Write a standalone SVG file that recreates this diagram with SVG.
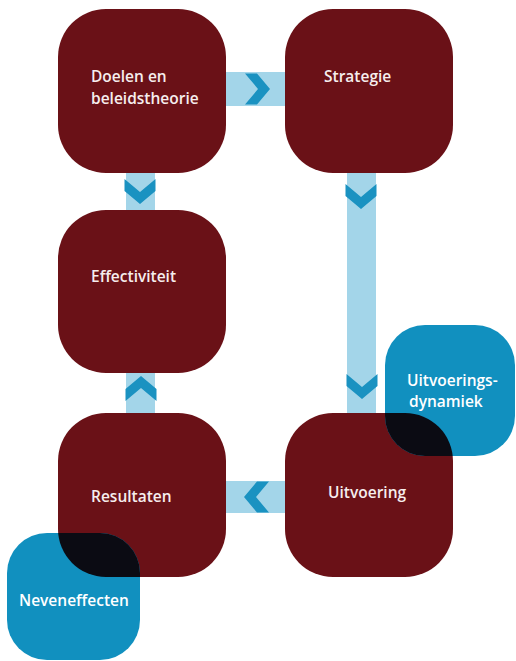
<svg xmlns="http://www.w3.org/2000/svg" width="516" height="661" viewBox="0 0 516 661">
<style>
.box{fill:#6a1117}
.side{fill:#1190bf}
.ovl{fill:#0b0b13}
.conn{fill:#a3d5e9}
.chev{fill:#1a92c1}
.t{font-family:"Open Sans","Noto Sans",sans-serif;font-weight:600;font-size:15.5px;fill:#f6eeee}
.tw{font-family:"Open Sans","Noto Sans",sans-serif;font-weight:600;font-size:15.5px;fill:#ffffff}
</style>
<defs>
<path id="chev" d="M-12,-15.5 L0,-15.5 L13,0 L0,15.5 L-12,15.5 L1,0 Z"/>
<clipPath id="c5"><rect x="285" y="413" width="168" height="164" rx="48"/></clipPath>
<clipPath id="c4"><rect x="58" y="413" width="168" height="164" rx="48"/></clipPath>
</defs>
<g id="connectors">
<rect class="conn" x="220" y="72" width="70" height="34"/>
<use href="#chev" class="chev" transform="translate(257,89)"/>
<rect class="conn" x="126" y="168" width="29" height="46"/>
<use href="#chev" class="chev" transform="translate(140,191) rotate(90)"/>
<rect class="conn" x="347" y="168" width="29" height="250"/>
<use href="#chev" class="chev" transform="translate(361,196) rotate(90)"/>
<use href="#chev" class="chev" transform="translate(362,386) rotate(90)"/>
<rect class="conn" x="126" y="368" width="29" height="48"/>
<use href="#chev" class="chev" transform="translate(141,389) rotate(-90)"/>
<rect class="conn" x="220" y="481" width="70" height="32"/>
<use href="#chev" class="chev" transform="translate(257,497) rotate(180)"/>
</g>
<g id="doelen">
<rect class="box" x="58" y="9" width="168" height="164" rx="48"/>
<text class="t" x="91" y="82">Doelen en</text>
<text class="t" x="91" y="104">beleidstheorie</text>
</g>
<g id="strategie">
<rect class="box" x="285" y="9" width="168" height="164" rx="48"/>
<text class="t" x="324" y="82">Strategie</text>
</g>
<g id="effectiviteit">
<rect class="box" x="58" y="210" width="168" height="163" rx="48"/>
<text class="t" x="91" y="282">Effectiviteit</text>
</g>
<g id="resultaten">
<rect class="box" x="58" y="413" width="168" height="164" rx="48"/>
<text class="t" x="91" y="502">Resultaten</text>
</g>
<g id="uitvoering">
<rect class="box" x="285" y="413" width="168" height="164" rx="48"/>
<text class="t" x="328" y="498">Uitvoering</text>
</g>
<g id="uitvoeringsdynamiek">
<rect class="side" x="385" y="325" width="130" height="131" rx="40"/>
<rect class="ovl" x="385" y="325" width="130" height="131" rx="40" clip-path="url(#c5)"/>
<text class="tw" x="407" y="386">Uitvoerings-</text>
<text class="tw" x="409" y="407">dynamiek</text>
</g>
<g id="neveneffecten">
<rect class="side" x="7" y="533" width="133" height="127" rx="40"/>
<rect class="ovl" x="7" y="533" width="133" height="127" rx="40" clip-path="url(#c4)"/>
<text class="tw" x="19" y="606">Neveneffecten</text>
</g>
</svg>
